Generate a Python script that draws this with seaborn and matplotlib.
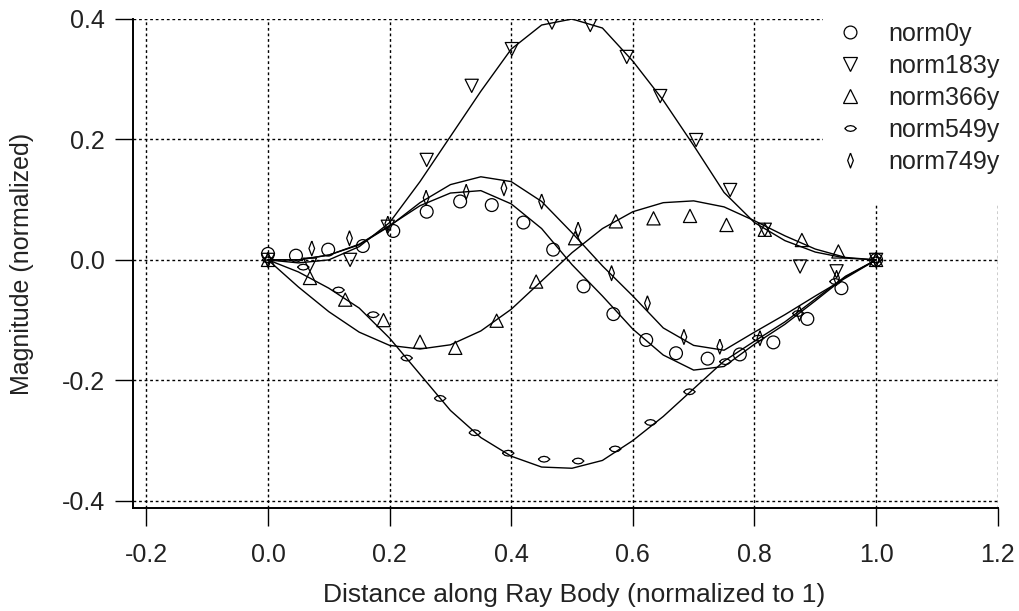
import matplotlib
matplotlib.use("Agg")
import matplotlib.pyplot as plt
from matplotlib.lines import Line2D
from matplotlib.patches import Rectangle
import seaborn as sns
import pandas as pd

sns.set_theme(style="white")
plt.rcParams['font.family'] = ['Arial', 'Liberation Sans', 'DejaVu Sans']

# ---------------- data ----------------
series_names = ["norm0y", "norm183y", "norm366y", "norm549y", "norm749y"]

x_0y = [0.0, 0.046, 0.099, 0.156, 0.206, 0.261, 0.316, 0.368, 0.420, 0.469,
        0.519, 0.568, 0.622, 0.671, 0.723, 0.776, 0.831, 0.887, 0.943, 1.0]
y_0y = [0.010, 0.007, 0.017, 0.023, 0.048, 0.080, 0.097, 0.091, 0.062, 0.017,
        -0.044, -0.090, -0.133, -0.155, -0.164, -0.157, -0.137, -0.098, -0.047, 0.0]

x_183y = [0.0, 0.069, 0.135, 0.197, 0.261, 0.335, 0.401, 0.467, 0.530, 0.590,
          0.645, 0.704, 0.760, 0.817, 0.875, 0.935, 1.0]
y_183y = [0.0, -0.008, 0.0, 0.055, 0.166, 0.289, 0.350, 0.394, 0.390, 0.337,
          0.272, 0.199, 0.116, 0.050, -0.011, -0.019, 0.0]

x_366y = [0.0, 0.069, 0.127, 0.190, 0.250, 0.308, 0.376, 0.441, 0.505, 0.572,
          0.634, 0.694, 0.754, 0.817, 0.878, 0.938, 1.0]
y_366y = [0.0, -0.030, -0.066, -0.100, -0.136, -0.146, -0.101, -0.036, 0.036, 0.064,
          0.069, 0.073, 0.058, 0.050, 0.033, 0.014, 0.0]

x_549y = [0.0, 0.058, 0.116, 0.173, 0.228, 0.283, 0.340, 0.395, 0.454, 0.510,
          0.571, 0.629, 0.693, 0.752, 0.806, 0.872, 0.933, 1.0]
y_549y = [0.0, -0.012, -0.050, -0.091, -0.163, -0.230, -0.287, -0.321, -0.331, -0.334,
          -0.314, -0.270, -0.219, -0.169, -0.130, -0.089, -0.036, 0.0]

x_749y = [0.0, 0.072, 0.134, 0.197, 0.260, 0.326, 0.388, 0.450, 0.510, 0.565,
          0.624, 0.684, 0.743, 0.809, 0.874, 0.935, 1.0]
y_749y = [0.0, 0.019, 0.036, 0.060, 0.103, 0.113, 0.119, 0.097, 0.050, -0.022,
          -0.072, -0.128, -0.144, -0.130, -0.089, -0.030, 0.0]

# fitted curves, sampled every 0.05
x_fit = [0.0, 0.05, 0.10, 0.15, 0.20, 0.25, 0.30, 0.35, 0.40, 0.45, 0.50,
         0.55, 0.60, 0.65, 0.70, 0.75, 0.80, 0.85, 0.90, 0.95, 1.0]
fit_0y = [0.0, 0.0, 0.008, 0.026, 0.057, 0.090, 0.111, 0.115, 0.093, 0.052, -0.008,
          -0.060, -0.115, -0.158, -0.183, -0.177, -0.140, -0.107, -0.068, -0.028, 0.0]
fit_183y = [0.0, -0.005, 0.0, 0.022, 0.062, 0.130, 0.205, 0.280, 0.350, 0.390, 0.400,
            0.385, 0.330, 0.265, 0.190, 0.112, 0.062, 0.032, 0.013, 0.003, 0.0]
fit_366y = [0.0, -0.045, -0.086, -0.120, -0.142, -0.148, -0.141, -0.118, -0.082, -0.035, 0.012,
            0.052, 0.080, 0.095, 0.098, 0.088, 0.065, 0.040, 0.018, 0.004, 0.0]
fit_549y = [0.0, -0.020, -0.047, -0.080, -0.130, -0.190, -0.250, -0.295, -0.326, -0.344, -0.346,
            -0.333, -0.300, -0.260, -0.214, -0.168, -0.135, -0.103, -0.065, -0.027, 0.0]
fit_749y = [0.0, 0.0, 0.008, 0.025, 0.056, 0.095, 0.125, 0.138, 0.130, 0.097, 0.045,
            -0.010, -0.060, -0.113, -0.142, -0.150, -0.120, -0.091, -0.060, -0.030, 0.0]

x_ticks = [-0.2, 0.0, 0.2, 0.4, 0.6, 0.8, 1.0, 1.2]
x_tick_labels = ["-0.2", "0.0", "0.2", "0.4", "0.6", "0.8", "1.0", "1.2"]
y_ticks = [-0.4, -0.2, 0.0, 0.2, 0.4]
y_tick_labels = ["-0.4", "-0.2", "0.0", "0.2", "0.4"]

# ---------------- styling ----------------
eye_marker = [(-1.0, 0.0), (-0.55, 0.38), (0.0, 0.5), (0.55, 0.38), (1.0, 0.0),
              (0.55, -0.38), (0.0, -0.5), (-0.55, -0.38), (-1.0, 0.0)]
thin_diamond = [(0.0, 1.0), (0.38, 0.0), (0.0, -1.0), (-0.38, 0.0), (0.0, 1.0)]

markers = {"norm0y": "o", "norm183y": "v", "norm366y": "^",
           "norm549y": eye_marker, "norm749y": thin_diamond}
sizes = {"norm0y": 85, "norm183y": 90, "norm366y": 90, "norm549y": 70, "norm749y": 115}

pts = {"norm0y": (x_0y, y_0y), "norm183y": (x_183y, y_183y), "norm366y": (x_366y, y_366y),
       "norm549y": (x_549y, y_549y), "norm749y": (x_749y, y_749y)}
fits = {"norm0y": fit_0y, "norm183y": fit_183y, "norm366y": fit_366y,
        "norm549y": fit_549y, "norm749y": fit_749y}

TXT = "#222222"
FS = 18

fig = plt.figure(figsize=(10.19, 6.11), dpi=100)
ax_w = (997.7 - 133) / 1019
ax_h = (508 - 19) / 611
ax = fig.add_axes([133 / 1019, 103 / 611, ax_w, ax_h])

for name in series_names:
    dfl = pd.DataFrame({"x": x_fit, "y": fits[name]})
    sns.lineplot(data=dfl, x="x", y="y", ax=ax, color="black", linewidth=1.0,
                 estimator=None, sort=False, zorder=2)

for name in series_names:
    xs, ys = pts[name]
    dfp = pd.DataFrame({"x": xs, "y": ys})
    sns.scatterplot(data=dfp, x="x", y="y", ax=ax, marker=markers[name], s=sizes[name],
                    facecolor="none", edgecolor="black", linewidth=0.9, zorder=3)
for coll in ax.collections:
    coll.set_facecolor("none")
    coll.set_edgecolor("black")

ax.set_xlim(-0.222, 1.2)
ax.set_ylim(-0.412, 0.4)
ax.set_xticks(x_ticks)
ax.set_xticklabels(x_tick_labels)
ax.set_yticks(y_ticks)
ax.set_yticklabels(y_tick_labels)

ax.grid(True, color="black", linestyle=(0, (2, 2)), linewidth=1.0)
ax.set_axisbelow(True)

for side in ["top", "right"]:
    ax.spines[side].set_visible(False)
for side in ["left", "bottom"]:
    ax.spines[side].set_color("black")
    ax.spines[side].set_linewidth(1.4)

ax.tick_params(axis="both", direction="out", length=13, width=1.0, color="black",
               labelsize=FS, labelcolor=TXT)
ax.tick_params(axis="x", pad=12, bottom=True)
ax.tick_params(axis="y", pad=7, left=True)

ax.set_xlabel("Distance along Ray Body (normalized to 1)", fontsize=FS + 1, color=TXT, va="center")
ax.xaxis.set_label_coords((574 - 133) / (997.7 - 133), -(595 - 508) / (508 - 19))
ax.set_ylabel("Magnitude (normalized)", fontsize=FS, color=TXT, va="center")
ax.yaxis.set_label_coords((22 - 133) / (997.7 - 133), 0.5)

# white block behind the legend (hides grid lines there)
ax.add_patch(Rectangle((823 / 1019, 1 - 205 / 611), 1 - 823 / 1019, 205 / 611,
                       transform=fig.transFigure, facecolor="white", edgecolor="none",
                       zorder=1.5, clip_on=False))

handles = [Line2D([], [], linestyle="none", marker=markers[n], markersize=(sizes[n]) ** 0.5,
                  markerfacecolor="none", markeredgecolor="black", markeredgewidth=0.9)
           for n in series_names]
leg = ax.legend(handles, series_names, loc="upper left",
                bbox_to_anchor=(837.5 / 1019, 1 - 22 / 611), bbox_transform=fig.transFigure,
                frameon=False, fontsize=FS, handlelength=1.0, handletextpad=1.02,
                labelspacing=0.32, borderpad=0.0, borderaxespad=0.0)
for t in leg.get_texts():
    t.set_color(TXT)
leg.set_zorder(6)

fig.savefig("out.png", dpi=100)
